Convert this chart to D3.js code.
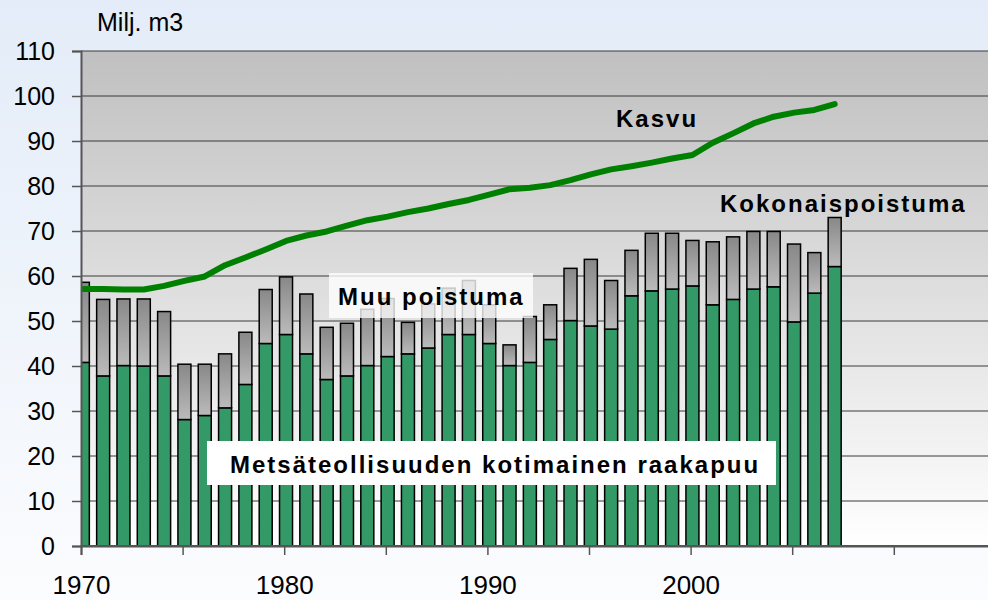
<!DOCTYPE html>
<html>
<head>
<meta charset="utf-8">
<script src="https://cdn.jsdelivr.net/npm/d3@7"></script>
<style>
  html, body { margin: 0; padding: 0; background: #fff; }
  svg { display: block; font-family: "Liberation Sans", Arial, sans-serif; }
</style>
</head>
<body>
<svg id="chart" width="988" height="600"></svg>
<script>
const years = d3.range(1970, 2008);
const industrial = [40.8, 37.8, 40.1, 40.0, 37.8, 28.1, 29.0, 30.7, 35.9, 45.0,
  47.0, 42.7, 37.0, 37.8, 40.1, 42.1, 42.7, 44.0, 47.0, 47.0,
  45.0, 40.1, 40.8, 45.9, 50.1, 48.9, 48.2, 55.6, 56.7, 57.1,
  57.8, 53.6, 54.8, 57.1, 57.6, 49.8, 56.2, 62.1];
const other = [17.8, 17.0, 14.8, 14.9, 14.3, 12.3, 11.4, 12.0, 11.6, 12.0,
  12.8, 13.3, 11.6, 11.7, 12.5, 12.9, 7.0, 9.8, 10.3, 12.0,
  8.6, 4.6, 10.2, 7.7, 11.6, 14.8, 10.8, 10.1, 12.8, 12.4,
  10.1, 14.0, 13.9, 12.8, 12.3, 17.3, 9.0, 10.9];
const growth = [57.1, 57.1, 57.0, 57.0, 57.8, 58.9, 59.9, 62.4, 64.1, 65.9,
  67.8, 69.0, 69.9, 71.2, 72.4, 73.2, 74.2, 75.0, 76.0, 76.9,
  78.1, 79.3, 79.6, 80.2, 81.3, 82.6, 83.7, 84.4, 85.2, 86.1,
  86.9, 89.6, 91.7, 93.9, 95.4, 96.3, 96.9, 98.2];
const yTicks = d3.range(0, 111, 10);
const xTicks = d3.range(1970, 2011, 5);
const xLabels = [1970, 1980, 1990, 2000];
const unitLabel = "Milj. m3";
const labelGrowth = "Kasvu";
const labelTotal = "Kokonaispoistuma";
const labelOther = "Muu poistuma";
const labelIndustrial = "Metsäteollisuuden kotimainen raakapuu";

const svg = d3.select("#chart");
const W = 988, H = 600;
const plot = { left: 81, top: 51, bottom: 546, right: 988 };

const x = d3.scaleLinear().domain([1970, 2015]).range([plot.left, plot.left + 45 * 20.32]);
const y = d3.scaleLinear().domain([0, 110]).range([plot.bottom, plot.top]);
const step = x(1971) - x(1970);
const barW = step * 0.64;
const cx = yr => x(yr + 0.09);

const defs = svg.append("defs");
const bg = defs.append("linearGradient").attr("id", "bg").attr("x1", 0).attr("y1", 0).attr("x2", 0).attr("y2", 1);
bg.append("stop").attr("offset", "0%").attr("stop-color", "#e3ecf8");
bg.append("stop").attr("offset", "100%").attr("stop-color", "#fbfcfe");
const pg = defs.append("linearGradient").attr("id", "pg").attr("x1", 0).attr("y1", 0).attr("x2", 0).attr("y2", 1);
pg.append("stop").attr("offset", "0%").attr("stop-color", "#c0c0c0");
pg.append("stop").attr("offset", "100%").attr("stop-color", "#ffffff");
const gg = defs.append("linearGradient").attr("id", "gg").attr("x1", 0).attr("y1", 0).attr("x2", 0).attr("y2", 1);
gg.append("stop").attr("offset", "0%").attr("stop-color", "#888888");
gg.append("stop").attr("offset", "100%").attr("stop-color", "#bbbbbb");
defs.append("clipPath").attr("id", "clip").append("rect")
  .attr("x", plot.left).attr("y", plot.top - 10).attr("width", plot.right - plot.left).attr("height", plot.bottom - plot.top + 10);

svg.append("rect").attr("width", W).attr("height", H).attr("fill", "url(#bg)");
svg.append("rect").attr("x", plot.left).attr("y", plot.top)
  .attr("width", plot.right - plot.left).attr("height", plot.bottom - plot.top).attr("fill", "url(#pg)");

// gridlines
svg.append("g").selectAll("line").data(yTicks.filter(d => d > 0)).join("line")
  .attr("x1", plot.left).attr("x2", plot.right)
  .attr("y1", d => y(d)).attr("y2", d => y(d))
  .attr("stroke", "#3a3a3a").attr("stroke-width", 1);

// bars
const bars = svg.append("g").attr("clip-path", "url(#clip)");
bars.selectAll("rect.ind").data(years).join("rect").attr("class", "ind")
  .attr("x", (d) => cx(d) - barW / 2).attr("width", barW)
  .attr("y", (d, i) => y(industrial[i])).attr("height", (d, i) => y(0) - y(industrial[i]))
  .attr("fill", "#339966").attr("stroke", "#000").attr("stroke-width", 1.5);
bars.selectAll("rect.oth").data(years).join("rect").attr("class", "oth")
  .attr("x", (d) => cx(d) - barW / 2).attr("width", barW)
  .attr("y", (d, i) => y(industrial[i] + other[i])).attr("height", (d, i) => y(industrial[i]) - y(industrial[i] + other[i]))
  .attr("fill", "url(#gg)").attr("stroke", "#000").attr("stroke-width", 1.5);

// growth line
svg.append("path").datum(years)
  .attr("clip-path", "url(#clip)")
  .attr("d", d3.line().x(d => cx(d)).y((d, i) => y(growth[i])))
  .attr("fill", "none").attr("stroke", "#008000").attr("stroke-width", 6)
  .attr("stroke-linejoin", "round").attr("stroke-linecap", "round");

// axes
const yAxis = svg.append("g").attr("transform", `translate(${plot.left},0)`)
  .call(d3.axisLeft(y).tickValues(yTicks).tickSize(9).tickPadding(17));
yAxis.select(".domain").attr("stroke", "#555").attr("stroke-width", 2);
yAxis.selectAll(".tick line").attr("stroke", "#555").attr("stroke-width", 1.5);
yAxis.selectAll("text").attr("font-size", 25).attr("fill", "#000")
  .attr("font-family", "'Liberation Sans', Arial, sans-serif");

const xAxis = svg.append("g").attr("transform", `translate(0,${plot.bottom})`)
  .call(d3.axisBottom(x).tickValues(xTicks).tickSize(9).tickPadding(21)
    .tickFormat(d => xLabels.includes(d) ? String(d) : ""));
xAxis.select(".domain").attr("stroke", "#555").attr("stroke-width", 2);
xAxis.selectAll(".tick line").attr("stroke", "#555").attr("stroke-width", 1.5);
xAxis.selectAll("text").attr("font-size", 26).attr("fill", "#000")
  .attr("font-family", "'Liberation Sans', Arial, sans-serif");
xAxis.append("line").attr("x1", plot.left).attr("x2", plot.right).attr("y1", 0).attr("y2", 0)
  .attr("stroke", "#555").attr("stroke-width", 2);

svg.append("text").attr("x", 97).attr("y", 31).attr("font-size", 25).attr("fill", "#000").text(unitLabel);

// label boxes
svg.append("rect").attr("x", 329).attr("y", 273).attr("width", 204).attr("height", 45)
  .attr("fill", "#fff").attr("fill-opacity", 0.78);
svg.append("rect").attr("x", 207).attr("y", 441).attr("width", 569).attr("height", 44).attr("fill", "#fff");

const lab = (t, xx, yy) => svg.append("text").attr("x", xx).attr("y", yy)
  .attr("font-size", 24).attr("font-weight", "bold").attr("letter-spacing", 2).attr("fill", "#000").text(t);
lab(labelGrowth, 616, 127);
lab(labelTotal, 720, 212);
lab(labelOther, 338, 305);
lab(labelIndustrial, 230, 473);
</script>
</body>
</html>
